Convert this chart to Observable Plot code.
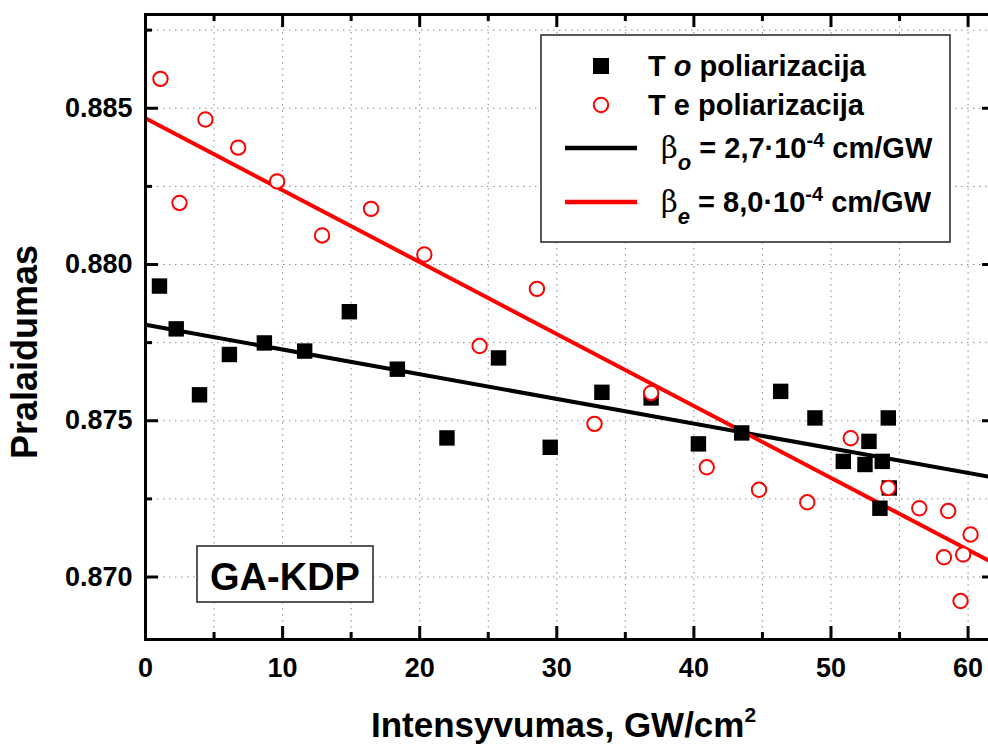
<!DOCTYPE html>
<html><head><meta charset="utf-8">
<script src="https://cdn.jsdelivr.net/npm/d3@7"></script>
<script src="https://cdn.jsdelivr.net/npm/@observablehq/plot@0.6"></script>
<style>
body{margin:0;background:#fff;}
#chart{position:relative;width:988px;height:745px;overflow:hidden;}
#chart svg{overflow:hidden;}
</style>
</head><body><div id="chart"></div>
<script>
// T, o polarization (black squares)
const oX = [1.02, 2.24, 3.94, 6.12, 8.67, 11.61, 14.87, 18.37, 21.99, 25.75, 29.52, 33.29, 36.88, 40.33, 43.49, 46.33, 48.83, 50.90, 52.48, 52.77, 53.57, 53.74, 54.18, 54.25];
const oT = [0.87931, 0.87794, 0.87583, 0.87712, 0.87749, 0.87723, 0.87849, 0.87665, 0.87445, 0.87701, 0.87415, 0.87591, 0.87573, 0.87426, 0.87461, 0.87594, 0.87509, 0.87370, 0.87360, 0.87434, 0.87220, 0.87370, 0.87509, 0.87285];
// T, e polarization (red open circles)
const eX = [1.09, 2.48, 4.37, 6.76, 9.60, 12.88, 16.45, 20.34, 24.37, 28.55, 32.75, 36.88, 40.94, 44.75, 48.27, 51.44, 54.18, 56.44, 58.24, 58.55, 59.45, 59.64, 60.18];
const eT = [0.88594, 0.88197, 0.88464, 0.88374, 0.88266, 0.88093, 0.88178, 0.88032, 0.87739, 0.87922, 0.87490, 0.87589, 0.87351, 0.87279, 0.87239, 0.87444, 0.87285, 0.87220, 0.87063, 0.87211, 0.86923, 0.87072, 0.87136];
// linear fits
const fitX = [0, 62];
const fitO = [0.87807, 0.87317];
const fitE = [0.88468, 0.87041];
// ticks
const xMajor = [0, 10, 20, 30, 40, 50, 60];
const xMinor = [5, 15, 25, 35, 45, 55];
const xGrid = [5, 10, 15, 20, 25, 30, 35, 40, 45, 50, 55, 60];
const yMajor = [0.870, 0.875, 0.880, 0.885];
const yMinor = [0.8725, 0.8775, 0.8825, 0.8875];
const yGrid = [0.8700, 0.8725, 0.8750, 0.8775, 0.8800, 0.8825, 0.8850, 0.8875];
const xTitle = "Intensyvumas, GW/cm";
const yTitle = "Pralaidumas";
const sampleLabel = "GA-KDP";

const oData = oX.map((x, i) => ({x, t: oT[i]}));
const eData = eX.map((x, i) => ({x, t: eT[i]}));
const fitData = fitX.map((x, i) => ({x, o: fitO[i], e: fitE[i]}));

const W = 988, H = 745, mL = 145, mR = -7, mT = 14, mB = 106;
const fw = W - mL - mR, fh = H - mT - mB;
const FONT = "'Liberation Sans', Arial, Helvetica, sans-serif";

const chart = Plot.plot({
  width: W, height: H,
  marginLeft: mL, marginRight: mR, marginTop: mT, marginBottom: mB,
  style: {fontFamily: FONT, fontWeight: "bold", background: "#fff", overflow: "hidden"},
  x: {domain: [0, 62]},
  y: {domain: [0.868, 0.888]},
  marks: [
    Plot.ruleX(xGrid, {stroke: "#8a8a8a", strokeWidth: 1, strokeDasharray: "1.5,4.5"}),
    Plot.ruleY(yGrid, {stroke: "#8a8a8a", strokeWidth: 1, strokeDasharray: "1.5,4.5"}),
    Plot.line(fitData, {x: "x", y: "o", stroke: "#000", strokeWidth: 4, clip: true}),
    Plot.line(fitData, {x: "x", y: "e", stroke: "#ff0000", strokeWidth: 4, clip: true}),
    Plot.dot(oData, {x: "x", y: "t", symbol: "square", r: 8.7, fill: "#000", stroke: "none"}),
    Plot.dot(eData, {x: "x", y: "t", symbol: "circle", r: 7.2, fill: "#fff", stroke: "#ff0000", strokeWidth: 2}),
    // inward ticks: bottom / top
    Plot.tickX(xMajor, {stroke: "#000", strokeWidth: 3, insetTop: fh - 13}),
    Plot.tickX(xMinor, {stroke: "#000", strokeWidth: 3, insetTop: fh - 7}),
    Plot.tickX(xMajor, {stroke: "#000", strokeWidth: 3, insetBottom: fh - 13}),
    Plot.tickX(xMinor, {stroke: "#000", strokeWidth: 3, insetBottom: fh - 7}),
    // inward ticks: left / right
    Plot.tickY(yMajor, {stroke: "#000", strokeWidth: 3, insetRight: fw - 13}),
    Plot.tickY(yMinor, {stroke: "#000", strokeWidth: 3, insetRight: fw - 7}),
    Plot.tickY(yMajor, {stroke: "#000", strokeWidth: 3, insetLeft: fw - 13}),
    Plot.tickY(yMinor, {stroke: "#000", strokeWidth: 3, insetLeft: fw - 7}),
    Plot.frame({stroke: "#000", strokeWidth: 3}),
    Plot.axisX({anchor: "bottom", ticks: xMajor, tickSize: 0, tickPadding: 18, fontSize: 27, fontWeight: "bold", label: null, tickFormat: d3.format("d")}),
    Plot.axisY({anchor: "left", ticks: yMajor, tickSize: 0, tickPadding: 13, fontSize: 27, fontWeight: "bold", label: null, tickFormat: d3.format(".3f")})
  ]
});

const svg = d3.select(chart);
// axis titles
const xt = svg.append("text").attr("x", 371).attr("y", 737).attr("text-anchor", "start")
  .attr("font-size", 35).attr("font-weight", "bold").attr("font-family", FONT).attr("fill", "#000");
xt.append("tspan").text(xTitle);
xt.append("tspan").attr("font-size", 21).attr("dy", -15).text("2");
svg.append("text").attr("transform", "translate(37,352) rotate(-90)").attr("text-anchor", "middle")
  .attr("font-size", 36).attr("font-weight", "bold").attr("font-family", FONT).attr("fill", "#000").text(yTitle);

// sample label box
svg.append("rect").attr("x", 197).attr("y", 546).attr("width", 176).attr("height", 56)
  .attr("fill", "#fff").attr("stroke", "#222").attr("stroke-width", 1.5);
svg.append("text").attr("x", 285).attr("y", 590).attr("text-anchor", "middle")
  .attr("font-size", 38).attr("font-weight", "bold").attr("font-family", FONT).attr("fill", "#000").text(sampleLabel);

// legend
const lg = svg.append("g").attr("font-family", FONT).attr("font-weight", "bold").attr("font-size", 29)
  .attr("fill", "#000").attr("text-anchor", "start");
lg.append("rect").attr("x", 541).attr("y", 35).attr("width", 409).attr("height", 207)
  .attr("fill", "#fff").attr("stroke", "#222").attr("stroke-width", 1.5);
lg.append("rect").attr("x", 593).attr("y", 58).attr("width", 16).attr("height", 16).attr("fill", "#000");
const t1 = lg.append("text").attr("x", 648).attr("y", 76);
t1.append("tspan").text("T ");
t1.append("tspan").attr("font-style", "italic").text("o");
t1.append("tspan").text(" poliarizacija");
lg.append("circle").attr("cx", 601).attr("cy", 105).attr("r", 7.2).attr("fill", "#fff").attr("stroke", "#ff0000").attr("stroke-width", 2);
lg.append("text").attr("x", 648).attr("y", 115).text("T e poliarizacija");
lg.append("line").attr("x1", 565).attr("x2", 637).attr("y1", 148).attr("y2", 148).attr("stroke", "#000").attr("stroke-width", 4.5);
lg.append("line").attr("x1", 565).attr("x2", 637).attr("y1", 202).attr("y2", 202).attr("stroke", "#ff0000").attr("stroke-width", 4.5);
function betaRow(y, sub, val) {
  const t = lg.append("text").attr("x", 661).attr("y", y);
  t.append("tspan").attr("font-weight", "normal").attr("font-family", "'DejaVu Serif', serif").text("β");
  t.append("tspan").attr("font-style", "italic").attr("font-size", 22).attr("dy", 12).text(sub);
  t.append("tspan").attr("dy", -12).text(" = " + val + "·10");
  t.append("tspan").attr("font-size", 20).attr("dy", -11).text("-4");
  t.append("tspan").attr("dy", 11).text(" cm/GW");
}
betaRow(158, "o", "2,7");
betaRow(212, "e", "8,0");

document.getElementById("chart").appendChild(chart);
</script>
</body></html>
